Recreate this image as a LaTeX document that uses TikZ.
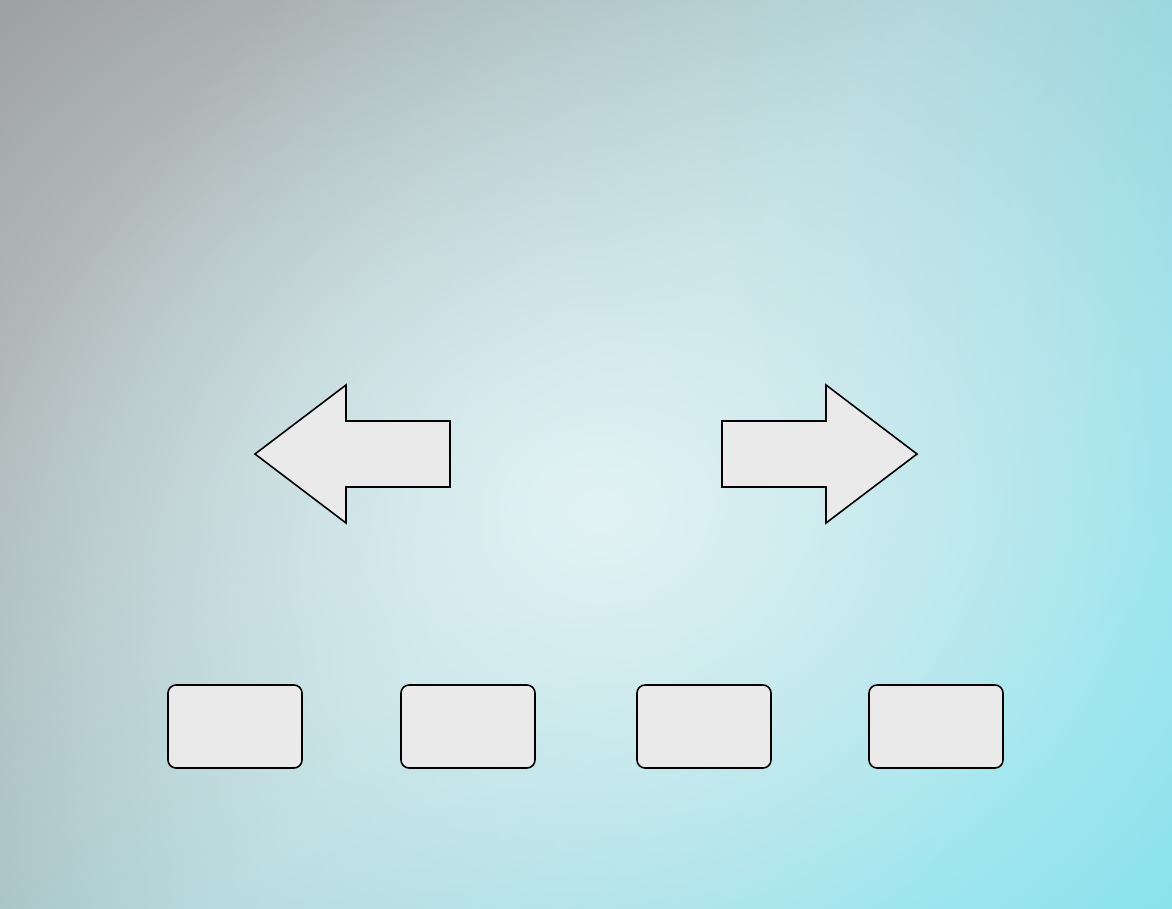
\documentclass[tikz,border=0pt]{standalone}
\usetikzlibrary{fadings}
\definecolor{bgTL}{RGB}{145,145,145}
\definecolor{bgMID}{RGB}{158,204,210}
\definecolor{bgBR}{RGB}{105,220,234}
\definecolor{bgGlow}{RGB}{226,243,245}
\definecolor{boxfill}{RGB}{234,234,234}
\tikzfading[name=glowfade, inner color=transparent!0, outer color=transparent!100]
\tikzset{
  shapebox/.style={draw=black, line width=1.6pt, fill=boxfill, rounded corners=8pt,
    minimum width=134pt, minimum height=83pt, inner sep=0pt},
  arrowshape/.style={draw=black, line width=1.6pt, fill=boxfill, line join=miter}
}
\begin{document}
\begin{tikzpicture}[x=1pt,y=-1pt]
\useasboundingbox (0,0) rectangle (1172,908);
\begin{scope}
\clip (0,0) rectangle (1172,908);
\shade[shading=axis, left color=bgTL, right color=bgBR, middle color=bgMID, shading angle=52]
  (0,0) rectangle (1172,908);
\fill[bgGlow, path fading=glowfade] (600,510) ellipse (1020 and 840);
\end{scope}
% left arrow
\draw[arrowshape] (255,454) -- (346,385) -- (346,421) -- (450,421) -- (450,487) -- (346,487) -- (346,523) -- cycle;
% right arrow
\draw[arrowshape] (917,454) -- (826,385) -- (826,421) -- (722,421) -- (722,487) -- (826,487) -- (826,523) -- cycle;
% boxes
\node[shapebox] (b1) at (235,726.5) {};
\node[shapebox] (b2) at (468,726.5) {};
\node[shapebox] (b3) at (704,726.5) {};
\node[shapebox] (b4) at (936,726.5) {};
\end{tikzpicture}
\end{document}
